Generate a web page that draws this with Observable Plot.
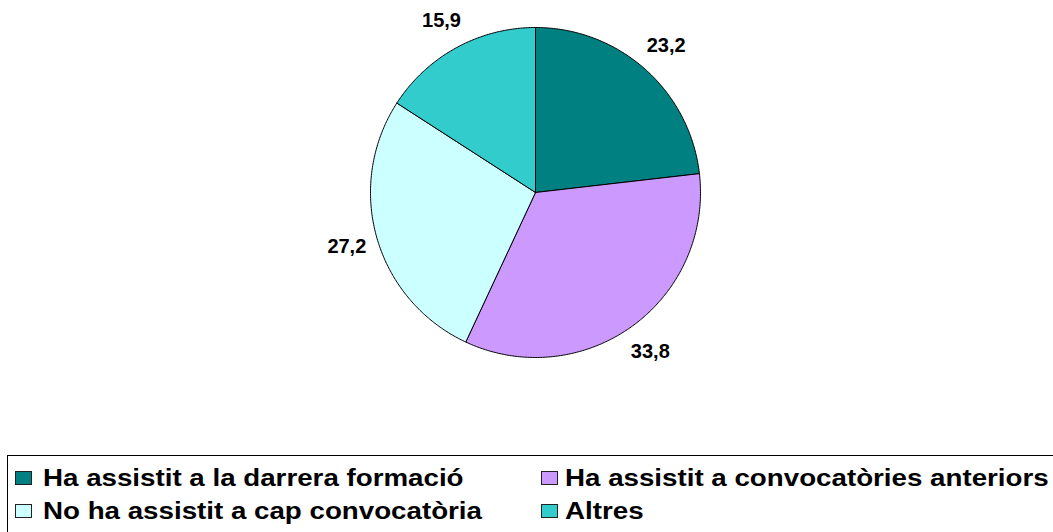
<!DOCTYPE html>
<html>
<head>
<meta charset="utf-8">
<script src="https://cdn.jsdelivr.net/npm/d3@7"></script>
<script src="https://cdn.jsdelivr.net/npm/@observablehq/plot@0.6"></script>
<style>
  html, body { margin: 0; padding: 0; background: #fff; overflow: hidden; }
  body { width: 1053px; height: 532px; position: relative; font-family: "Liberation Sans", Arial, sans-serif; }
  #chart { position: absolute; left: 0; top: 0; }
  #legend { position: absolute; left: 7px; top: 455px; width: 1100px; height: 120px; border: 1px solid #000; box-sizing: border-box; }
  .sw { position: absolute; width: 15px; height: 12px; border: 1px solid #222; }
  .txt { position: absolute; font-size: 23px; font-weight: bold; color: #000; white-space: nowrap; line-height: 23px; transform: scaleX(1.205); transform-origin: 0 50%; }
</style>
</head>
<body>
<div id="chart"></div>
<div id="legend"></div>
<script>
const categories = ["Ha assistit a la darrera formació", "Ha assistit a convocatòries anteriors", "No ha assistit a cap convocatòria", "Altres"];
const values = [23.2, 33.8, 27.2, 15.9];
const labels = ["23,2", "33,8", "27,2", "15,9"];
const colors = ["#008080", "#CC99FF", "#CCFFFF", "#33CCCC"];

const pie = d3.pie().sort(null).value(d => d)(values);

// wedge polygons in unit-radius space (angle measured clockwise from 12 o'clock)
const wedgePts = [];
pie.forEach((p, i) => {
  const n = Math.max(2, Math.ceil((p.endAngle - p.startAngle) / 0.01));
  wedgePts.push({k: i, x: 0, y: 0});
  for (let j = 0; j <= n; j++) {
    const a = p.startAngle + (p.endAngle - p.startAngle) * j / n;
    wedgePts.push({k: i, x: Math.sin(a), y: Math.cos(a)});
  }
  wedgePts.push({k: i, x: 0, y: 0});
});

const labelR = 1.19;
const labelPts = pie.map((p, i) => {
  const a = (p.startAngle + p.endAngle) / 2;
  return {label: labels[i], x: labelR * Math.sin(a), y: labelR * Math.cos(a)};
});

const chart = Plot.plot({
  width: 1053,
  height: 440,
  margin: 0,
  x: {domain: [-1, 1], range: [370, 700], axis: null},
  y: {domain: [-1, 1], range: [357, 27], axis: null},
  color: {domain: d3.range(categories.length), range: colors},
  marks: [
    Plot.line(wedgePts, {x: "x", y: "y", z: "k", fill: d => d.k, stroke: "#000", strokeWidth: 1, curve: "linear"}),
    Plot.text(labelPts, {x: "x", y: "y", text: "label", fontSize: 20, fontWeight: "bold", fill: "#000", fontFamily: "Liberation Sans, Arial, sans-serif"})
  ]
});
document.getElementById("chart").appendChild(chart);

const legend = document.getElementById("legend");
// [swatch left, text left, row top] relative to legend box interior
const slots = [[7, 35, 15], [533, 557, 15], [7, 35, 48], [533, 557, 48]];
categories.forEach((c, i) => {
  const [sx, tx, ty] = slots[i];
  const sw = document.createElement("div");
  sw.className = "sw";
  sw.style.left = sx + "px";
  sw.style.top = ty + "px";
  sw.style.background = colors[i];
  legend.appendChild(sw);
  const t = document.createElement("div");
  t.className = "txt";
  t.style.left = tx + "px";
  t.style.top = (ty - 4) + "px";
  t.textContent = c;
  legend.appendChild(t);
});
</script>
</body>
</html>
